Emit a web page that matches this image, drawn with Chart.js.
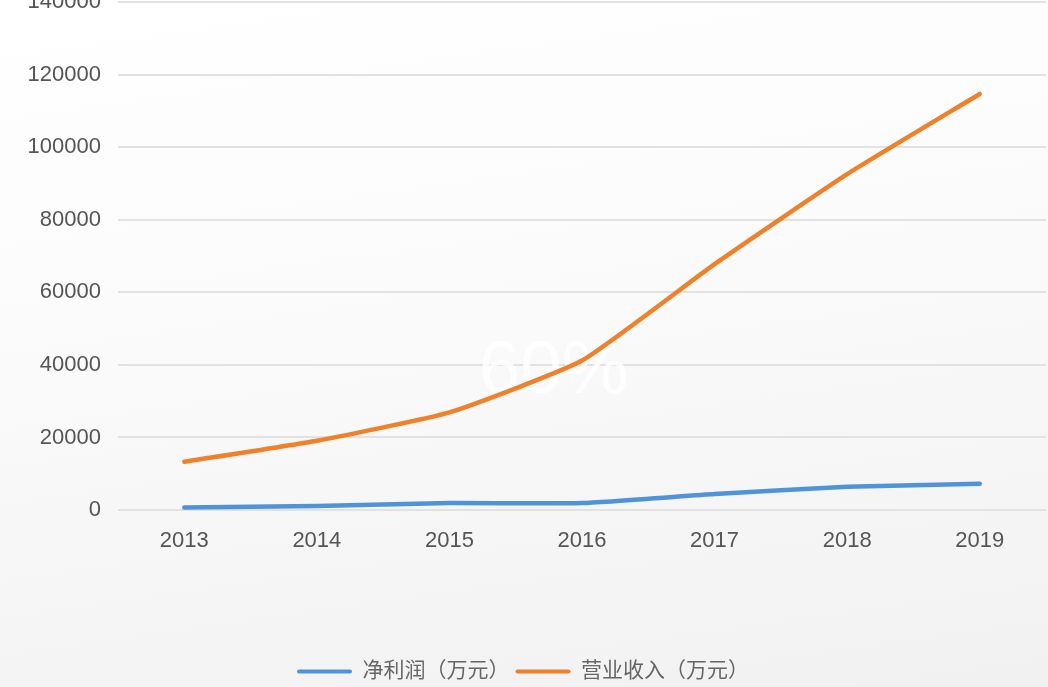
<!DOCTYPE html>
<html>
<head>
<meta charset="utf-8">
<script src="https://cdn.jsdelivr.net/npm/chart.js@4.4.1/dist/chart.umd.min.js"></script>
<style>
  html, body { margin: 0; padding: 0; width: 1048px; height: 687px; overflow: hidden; }
  body { background: linear-gradient(172deg, #ffffff 0%, #fbfbfb 40%, #f1f1f1 100%); position: relative; }
  #wrap { position: absolute; left: 0; top: -28px; width: 1048px; height: 720px; }
</style>
</head>
<body>
<div id="wrap"><canvas id="c" width="1048" height="720"></canvas></div>
<script>
const categories = ['2013', '2014', '2015', '2016', '2017', '2018', '2019'];
const netProfit = [700, 1100, 1900, 1900, 4400, 6400, 7250];
const revenue = [13300, 19100, 26900, 41200, 67800, 92600, 114700];
const seriesNames = ['净利润（万元）', '营业收入（万元）'];
const yTicks = [0, 20000, 40000, 60000, 80000, 100000, 120000, 140000];
const watermarkText = '60%';

const FONT = '"Liberation Sans", "Helvetica Neue", Arial, "Noto Sans CJK SC", sans-serif';
const CJKFONT = '"Liberation Sans", "Noto Sans CJK SC", sans-serif';

const watermark = {
  id: 'watermark',
  beforeDatasetsDraw(chart) {
    const ctx = chart.ctx;
    const xs = chart.scales.x, ys = chart.scales.y;
    ctx.save();
    ctx.font = '75px ' + FONT;
    ctx.fillStyle = 'rgba(255,255,255,0.85)';
    ctx.textAlign = 'center';
    ctx.textBaseline = 'middle';
    const cx = (xs.getPixelForValue(2) + xs.getPixelForValue(3)) / 2 + 38;
    const cy = ys.getPixelForValue(38000);
    ctx.fillText(watermarkText, cx, cy);
    ctx.restore();
  }
};

new Chart(document.getElementById('c'), {
  type: 'line',
  data: {
    labels: categories,
    datasets: [
      {
        label: seriesNames[0],
        data: netProfit,
        borderColor: '#5193DA',
        backgroundColor: '#5193DA',
        borderWidth: 4.5,
        pointRadius: 0,
        tension: 0.15,
        borderCapStyle: 'round',
        borderJoinStyle: 'round'
      },
      {
        label: seriesNames[1],
        data: revenue,
        borderColor: '#F0802A',
        backgroundColor: '#F0802A',
        borderWidth: 4.5,
        pointRadius: 0,
        tension: 0.15,
        borderCapStyle: 'round',
        borderJoinStyle: 'round'
      }
    ]
  },
  options: {
    responsive: false,
    animation: false,
    devicePixelRatio: 1,
    layout: { padding: { top: 13, right: 2, left: 0, bottom: 0 } },
    plugins: {
      tooltip: { enabled: false },
      legend: {
        position: 'bottom',
        labels: {
          font: { family: CJKFONT, size: 21 },
          color: '#666666',
          boxWidth: 55,
          boxHeight: 4,
          padding: 6,
          generateLabels(chart) {
            return chart.data.datasets.map((ds, i) => ({
              text: ds.label,
              fillStyle: ds.borderColor,
              strokeStyle: ds.borderColor,
              lineWidth: 0,
              fontColor: '#666666',
              datasetIndex: i,
              borderRadius: 2,
              hidden: false
            }));
          }
        }
      }
    },
    scales: {
      x: {
        type: 'category',
        offset: true,
        grid: { display: false, drawTicks: false },
        border: { display: false },
        ticks: {
          font: { family: FONT, size: 22 },
          color: '#555555',
          padding: 18,
          maxRotation: 0
        },
        afterFit(s) { s.height = 145; }
      },
      y: {
        min: 0,
        max: 140000,
        afterBuildTicks(s) { s.ticks = yTicks.map(v => ({ value: v })); },
        grid: { color: '#e2e2e2', lineWidth: 2, drawTicks: false },
        border: { display: false },
        ticks: {
          font: { family: FONT, size: 22 },
          color: '#555555',
          padding: 17,
          callback: v => String(v)
        },
        afterFit(s) { s.width = 118; }
      }
    }
  },
  plugins: [watermark]
});
</script>
</body>
</html>
